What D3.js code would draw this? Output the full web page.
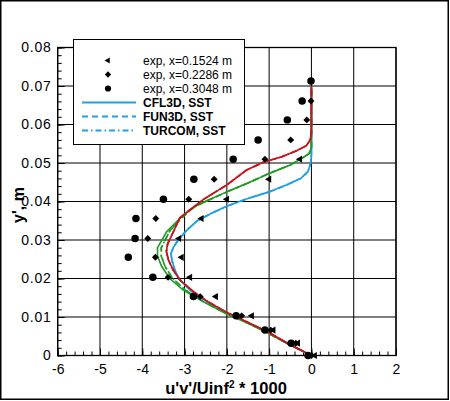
<!DOCTYPE html>
<html><head><meta charset="utf-8">
<script src="https://cdn.jsdelivr.net/npm/d3@7"></script>
<style>html,body{margin:0;padding:0;background:#fff}svg{display:block}</style>
</head><body>
<svg id="c" width="450" height="401"></svg>
<script>
// ---- data ----
const xTicks = [-6,-5,-4,-3,-2,-1,0,1,2];
const xTickLabels = ["-6","-5","-4","-3","-2","-1","0","1","2"];
const yTicks = [0,0.01,0.02,0.03,0.04,0.05,0.06,0.07,0.08];
const yTickLabels = ["0","0.01","0.02","0.03","0.04","0.05","0.06","0.07","0.08"];

const expY = [0,0.0032,0.0066,0.0103,0.0153,0.0203,0.0255,0.0304,0.0356,0.0406,0.0458,0.051,0.056,0.0612,0.0661,0.0713];
const exp1524 = [0.08,-0.32,-0.9,-1.41,-2.26,-2.87,-3.07,-3.13,-2.60,-2.0,-1.0,-0.27];
const exp2286 = [0,-0.37,-0.96,-1.65,-2.63,-3.39,-3.69,-3.87,-3.68,-2.90,-2.30,-1.10,-0.49,-0.11,-0.01];
const exp3048 = [-0.08,-0.48,-1.10,-1.78,-2.79,-3.75,-4.33,-4.17,-4.15,-3.50,-2.78,-1.85,-1.26,-0.57,-0.22,-0.01];

// CFD profiles (u'v' values, y values)
const blueX = [0,-0.55,-1.06,-1.5,-2.0,-2.45,-2.87,-3.11,-3.23,-3.30,-3.32,-3.27,-3.15,-2.95,-2.70,-2.35,-2.0,-1.5,-1.0,-0.55,-0.25,-0.08,-0.02,0,0];
const blueY = [0,0.003,0.0062,0.0085,0.011,0.0138,0.017,0.0196,0.0222,0.0248,0.0265,0.028,0.030,0.0325,0.035,0.037,0.0388,0.0408,0.0425,0.0445,0.046,0.0478,0.050,0.052,0.070];
const greenX = [0,-0.55,-1.06,-1.5,-2.0,-2.56,-3.03,-3.35,-3.54,-3.64,-3.64,-3.56,-3.42,-3.11,-2.80,-2.48,-2.0,-1.5,-1.0,-0.5,-0.2,-0.05,0,0];
const greenY = [0,0.003,0.006,0.0084,0.0108,0.014,0.017,0.020,0.0231,0.0258,0.028,0.0295,0.0322,0.0356,0.0385,0.0402,0.0425,0.0448,0.0473,0.0495,0.0514,0.0525,0.054,0.070];
const greenX2 = [0,-0.55,-1.06,-1.5,-2.0,-2.56,-2.98,-3.28,-3.46,-3.55,-3.55,-3.48,-3.36,-3.08,-2.78,-2.46,-2.0,-1.5,-1.0,-0.5,-0.2,-0.05,0,0];
const redX = [0,-0.55,-1.06,-1.5,-2.0,-2.45,-2.79,-3.11,-3.27,-3.38,-3.43,-3.40,-3.30,-3.11,-2.56,-2.0,-1.53,-1.14,-0.70,-0.35,-0.12,-0.03,0,0];
const redY = [0,0.0031,0.0063,0.0086,0.0112,0.014,0.0166,0.0196,0.0222,0.0248,0.027,0.029,0.0313,0.0358,0.0405,0.0443,0.0482,0.0502,0.0516,0.0532,0.0545,0.056,0.058,0.070];

const legendLabels = ["exp, x=0.1524 m","exp, x=0.2286 m","exp, x=0.3048 m","CFL3D, SST","FUN3D, SST","TURCOM, SST"];

// ---- drawing ----
const svg = d3.select("#c");
const x = d3.scaleLinear().domain([-6,2]).range([57.7,396]);
const y = d3.scaleLinear().domain([0,0.08]).range([355.5,47.5]);
const BLUE = "#1ea0e6", GREEN = "#1f9a25", RED = "#c8141e";
const FONT = "'Liberation Sans', Arial, Helvetica, sans-serif";

svg.append("rect").attr("width",450).attr("height",401).attr("fill","#fff");

// grid
const g = svg.append("g");
g.selectAll(".vg").data(xTicks).join("line")
  .attr("x1",d=>x(d)).attr("x2",d=>x(d)).attr("y1",y(0)).attr("y2",y(0.08))
  .attr("stroke","#000").attr("stroke-width",1);
g.selectAll(".hg").data(yTicks).join("line")
  .attr("y1",d=>y(d)).attr("y2",d=>y(d)).attr("x1",x(-6)).attr("x2",x(2))
  .attr("stroke","#000").attr("stroke-width",1);

// minor ticks via axes
const xMinor = d3.range(-6,2.0001,0.2);
const yMinor = d3.range(0,0.08001,0.002);
svg.append("g").attr("transform",`translate(0,${y(0)})`)
  .call(d3.axisBottom(x).tickValues(xMinor).tickSize(-4).tickFormat(""))
  .call(s=>s.select(".domain").remove())
  .selectAll("line").attr("stroke-width",1);
svg.append("g").attr("transform",`translate(${x(-6)},0)`)
  .call(d3.axisLeft(y).tickValues(yMinor).tickSize(-4).tickFormat(""))
  .call(s=>s.select(".domain").remove())
  .selectAll("line").attr("stroke-width",1);

// major axes with labels
const xa = svg.append("g").attr("transform",`translate(0,${y(0)})`)
  .call(d3.axisBottom(x).tickValues(xTicks).tickSize(-7).tickPadding(9).tickFormat((d,i)=>xTickLabels[i]));
xa.select(".domain").remove();
xa.selectAll("text").attr("font-family",FONT).attr("font-size",14).attr("fill","#000");
const ya = svg.append("g").attr("transform",`translate(${x(-6)},0)`)
  .call(d3.axisLeft(y).tickValues(yTicks).tickSize(-7).tickPadding(6).tickFormat((d,i)=>yTickLabels[i]));
ya.select(".domain").remove();
ya.selectAll("text").attr("font-family",FONT).attr("font-size",14).attr("fill","#000").attr("letter-spacing","0.8px");

// plot frame
svg.append("rect").attr("x",x(-6)).attr("y",y(0.08)).attr("width",x(2)-x(-6)).attr("height",y(0)-y(0.08))
  .attr("fill","none").attr("stroke","#000").attr("stroke-width",1.3);

// curves
const line = d3.line().x(d=>x(d[0])).y(d=>y(d[1]));
function curve(xs, ys, color, dash){
  svg.append("path").datum(xs.map((v,i)=>[v,ys[i]])).attr("d",line)
    .attr("fill","none").attr("stroke",color).attr("stroke-width",1.6)
    .attr("stroke-dasharray",dash);
}
const DASH = "6,4", DASHDOT = "6,3,1.5,3";
curve(blueX,blueY,BLUE,null); curve(blueX,blueY,BLUE,DASH); curve(blueX,blueY,BLUE,DASHDOT);
curve(greenX,greenY,GREEN,null); curve(greenX2,greenY,GREEN,DASH); curve(greenX2,greenY,GREEN,DASHDOT);
curve(redX,redY,RED,null); curve(redX,redY,RED,DASH); curve(redX,redY,RED,DASHDOT);

// markers
const tri = d3.symbol().type(d3.symbolTriangle).size(22);
const dia = d3.symbol().type(d3.symbolSquare).size(24);
const cir = d3.symbol().type(d3.symbolCircle).size(44);
svg.append("g").selectAll("path").data(exp1524).join("path")
  .attr("d",tri).attr("transform",(d,i)=>`translate(${x(d)},${y(expY[i])}) rotate(-90)`).attr("fill","#000");
svg.append("g").selectAll("path").data(exp2286).join("path")
  .attr("d",dia).attr("transform",(d,i)=>`translate(${x(d)},${y(expY[i])}) rotate(45)`).attr("fill","#000");
svg.append("g").selectAll("path").data(exp3048).join("path")
  .attr("d",cir).attr("transform",(d,i)=>`translate(${x(d)},${y(expY[i])})`).attr("fill","#000");

// axis titles
const xt = svg.append("text").attr("x",226).attr("y",394).attr("text-anchor","middle")
  .attr("font-family",FONT).attr("font-weight","bold").attr("font-size",16.5).attr("fill","#000");
xt.append("tspan").text("u'v'/Uinf");
xt.append("tspan").attr("font-size",10).attr("dy",-6).text("2");
xt.append("tspan").attr("dy",6).text(" * 1000");
svg.append("text").attr("transform","translate(24,205) rotate(-90)").attr("text-anchor","middle")
  .attr("font-family",FONT).attr("font-weight","bold").attr("font-size",16).attr("fill","#000").text("y', m");

// legend
const lg = svg.append("g");
lg.append("rect").attr("x",73.5).attr("y",39.5).attr("width",171).attr("height",105)
  .attr("fill","#fff").attr("stroke","#000").attr("stroke-width",1);
const rowY = i => 60.5 + i*14;
const legSym = [tri, dia, cir];
legSym.forEach((s,i)=>{
  lg.append("path").attr("d",d3.symbol().type(s.type()).size([16,20,30][i]))
    .attr("transform",`translate(108,${rowY(i)}) rotate(${[-90,45,0][i]})`).attr("fill","#000");
});
[null,DASH,DASHDOT].forEach((dash,j)=>{
  lg.append("line").attr("x1",82).attr("x2",136).attr("y1",rowY(j+3)).attr("y2",rowY(j+3))
    .attr("stroke",BLUE).attr("stroke-width",2).attr("stroke-dasharray",dash);
});
legendLabels.forEach((t,i)=>{
  lg.append("text").attr("x",143).attr("y",rowY(i)+4.5).attr("font-family",FONT)
    .attr("font-size",12).attr("font-weight",i<3?"normal":"bold").attr("fill","#000").text(t);
});

// outer frame
svg.append("rect").attr("x",0.75).attr("y",0.75).attr("width",447.5).attr("height",398.5)
  .attr("fill","none").attr("stroke","#000").attr("stroke-width",1.5);
</script>
</body></html>
